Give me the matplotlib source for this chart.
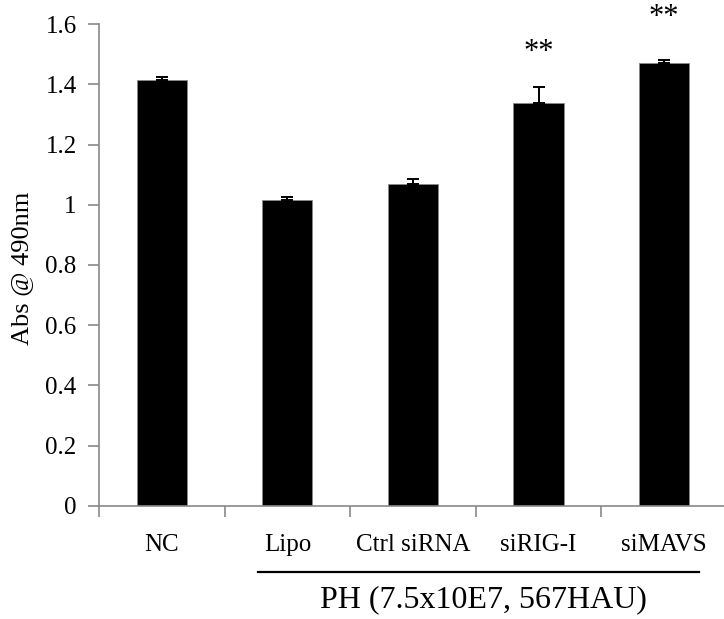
import numpy as np
import matplotlib
matplotlib.use('Agg')
import matplotlib.pyplot as plt
from matplotlib.ticker import FixedLocator, FuncFormatter

plt.rcParams['font.family'] = ['Liberation Serif', 'DejaVu Serif']

# data
groups = ['NC', 'Lipo', 'Ctrl siRNA', 'siRIG-I', 'siMAVS']
absorb = [1.414, 1.016, 1.068, 1.339, 1.469]
err = [0.009, 0.010, 0.018, 0.051, 0.010]
stars = ['', '', '', '**', '**']
star_y = [None, None, None, 1.505, 1.623]
group_label = 'PH (7.5x10E7, 567HAU)'
group_members = [1, 4]  # Lipo .. siMAVS

grey = '#898989'

fig = plt.figure(figsize=(7.24, 6.19), dpi=100)
ax = fig.add_axes([0.1367, 0.1826, 1.0041 - 0.1367, 0.9612 - 0.1826])

x = np.arange(len(groups))
ax.bar(x, absorb, width=0.4, color='black', edgecolor=grey, linewidth=0.6, zorder=2)
ax.errorbar(x, absorb, yerr=[np.zeros(len(err)), err], fmt='none', ecolor='black',
            elinewidth=1.4, capsize=4.5, capthick=1.4, zorder=3)

for xi, s, sy in zip(x, stars, star_y):
    if s:
        ax.text(xi, sy, s, ha='center', va='center', fontsize=22, clip_on=False)

ax.set_xlim(-0.5, len(groups) - 0.5)
ax.set_ylim(0, 1.6)
ax.set_yticks(np.arange(0, 1.61, 0.2))
ax.yaxis.set_major_formatter(FuncFormatter(lambda v, p: f'{v:.1f}'.rstrip('0').rstrip('.') if v else '0'))
ax.tick_params(axis='y', direction='out', length=8, width=1.2, color=grey, labelsize=18, pad=8)

ax.set_xticks(x)
ax.set_xticklabels(groups)
ax.xaxis.set_minor_locator(FixedLocator(np.arange(-0.5, len(groups), 1.0)))
ax.tick_params(axis='x', which='major', length=0, labelsize=18, pad=20)
ax.tick_params(axis='x', which='minor', direction='out', length=8, width=1.2, color=grey)

for side in ['top', 'right']:
    ax.spines[side].set_visible(False)
for side in ['left', 'bottom']:
    ax.spines[side].set_color(grey)
    ax.spines[side].set_linewidth(1.2)

# group bracket under the treated samples
trans = ax.get_xaxis_transform()
ax.plot([group_members[0] - 0.23, group_members[1] + 0.28], [-0.137, -0.137], color='black',
        linewidth=1.6, transform=trans, clip_on=False)
ax.text((group_members[0] + group_members[1]) / 2 + 0.06, -0.195, group_label, transform=trans,
        ha='center', va='center', fontsize=23)

fig.text(22 / 724, 1 - 268 / 619, 'Abs @ 490nm', rotation=90, ha='center', va='center', fontsize=19)

fig.savefig('out.png', dpi=100)
